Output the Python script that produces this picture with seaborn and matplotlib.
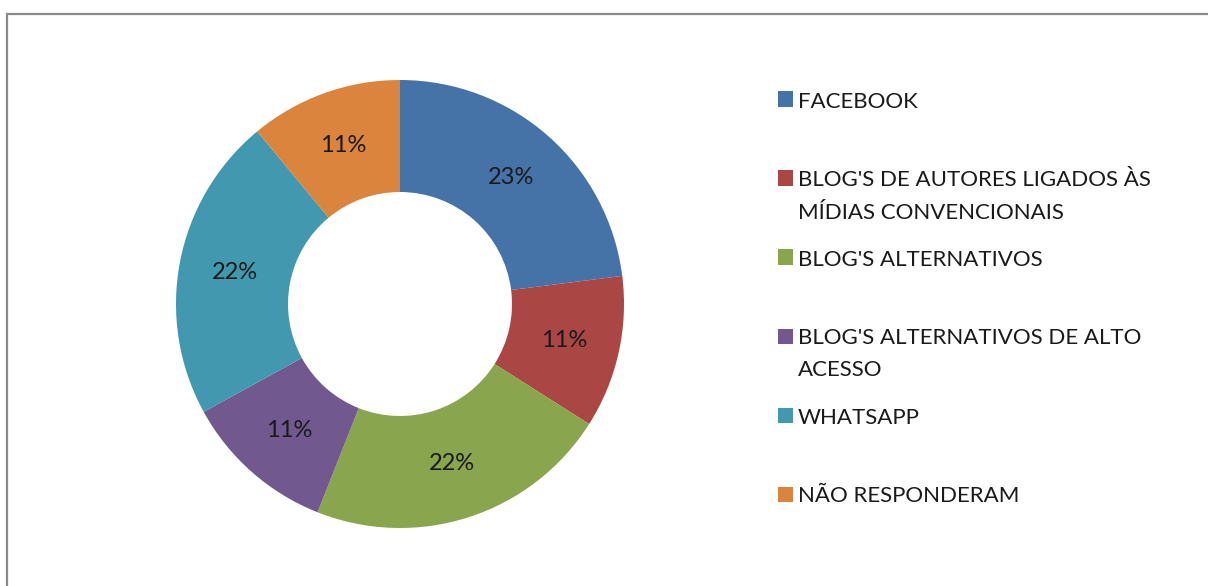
import matplotlib
matplotlib.use("Agg")
import matplotlib.pyplot as plt
import seaborn as sns
from matplotlib.patches import Rectangle

categorias = [
    "FACEBOOK",
    "BLOG'S DE AUTORES LIGADOS ÀS\nMÍDIAS CONVENCIONAIS",
    "BLOG'S ALTERNATIVOS",
    "BLOG'S ALTERNATIVOS DE ALTO\nACESSO",
    "WHATSAPP",
    "NÃO RESPONDERAM",
]
percentuais = [23, 11, 22, 11, 22, 11]
cores = ["#4572A7", "#AA4643", "#89A54E", "#71588F", "#4198AF", "#DB843D"]

sns.set_theme(style="white")
plt.rcParams["font.family"] = ["Lato", "DejaVu Sans"]

W, H = 1208, 586
fig = plt.figure(figsize=(W / 100, H / 100), dpi=100)
fig.patch.set_facecolor("white")

# moldura cinza (só topo e esquerda aparecem)
fig.patches.append(Rectangle((7.5 / W, -0.1), 1.2, (H - 14) / H + 0.1,
                             transform=fig.transFigure, fill=False,
                             edgecolor="#8a8a8a", linewidth=1.6))

cx, cy, r = 400, 304, 224
ax = fig.add_axes([(cx - r) / W, (H - cy - r) / H, 2 * r / W, 2 * r / H])
ax.pie(percentuais, colors=cores, startangle=90, counterclock=False,
       radius=1, wedgeprops=dict(width=0.5, linewidth=0),
       autopct=lambda p: f"{p:.0f}%", pctdistance=0.75,
       textprops=dict(fontsize=17, color="#1a1a1a"))
ax.set_xlim(-1, 1)
ax.set_ylim(-1, 1)
ax.set_aspect("equal")
ax.axis("off")

# legenda manual no estilo do Excel
y0, passo, entrelinha = 99, 79, 32
for i, (nome, cor) in enumerate(zip(categorias, cores)):
    yc = y0 + i * passo
    fig.patches.append(Rectangle((778 / W, (H - yc - 7.5) / H), 15 / W, 15 / H,
                                 transform=fig.transFigure, facecolor=cor,
                                 edgecolor="none"))
    for j, linha in enumerate(nome.split("\n")):
        yb = yc + j * entrelinha + 8.5
        fig.text(798 / W, (H - yb) / H, linha, fontsize=16,
                 color="#1a1a1a", va="baseline", ha="left")

fig.savefig("out.png", dpi=100)
